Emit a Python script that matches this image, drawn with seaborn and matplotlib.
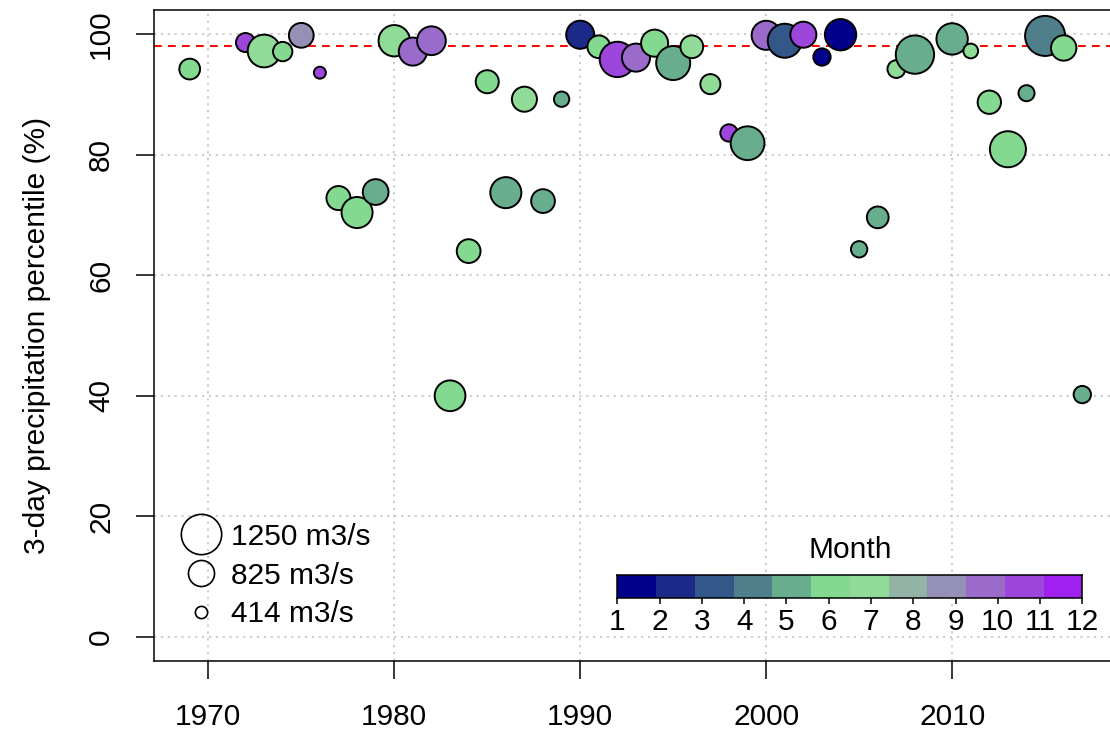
import matplotlib
matplotlib.use("Agg")
import matplotlib.pyplot as plt
from matplotlib.colors import ListedColormap
from matplotlib.lines import Line2D
import numpy as np
import pandas as pd
import seaborn as sns


# Datos: año del evento, percentil de precipitación a 3 días,
# caudal pico (m3/s) y mes del evento
YEARS = [1969, 1972, 1973, 1974, 1975, 1976, 1977, 1978, 1979, 1980,
         1981, 1982, 1983, 1984, 1985, 1986, 1987, 1988, 1989, 1990,
         1991, 1992, 1993, 1994, 1995, 1996, 1997, 1998, 1999, 2000,
         2001, 2002, 2003, 2004, 2005, 2006, 2007, 2008, 2010, 2011,
         2012, 2013, 2014, 2015, 2016, 2017]
PERCENTILE = [94.2, 98.6, 97.2, 97.1, 99.8, 93.6, 72.8, 70.4, 73.8, 98.9,
              97.1, 98.9, 40.0, 64.0, 92.1, 73.7, 89.2, 72.3, 89.2, 99.9,
              97.9, 95.8, 96.1, 98.5, 95.2, 97.9, 91.7, 83.6, 81.9, 99.8,
              98.9, 99.9, 96.2, 99.9, 64.3, 69.6, 94.2, 96.6, 99.2, 97.2,
              88.7, 80.9, 90.2, 99.7, 97.7, 40.2]
DISCHARGE = [676, 625, 1033, 634, 795, 414, 774, 982, 824, 991,
             893, 914, 973, 765, 744, 982, 804, 765, 515, 893,
             735, 1110, 893, 863, 1071, 735, 655, 574, 1063, 923,
             1071, 833, 574, 991, 545, 705, 586, 1199, 991, 497,
             753, 1131, 536, 1250, 813, 574]
MONTH = [6, 11, 7, 6, 9, 11, 6, 6, 5, 7,
         10, 10, 6, 6, 6, 5, 7, 5, 5, 2,
         6, 11, 10, 6, 5, 7, 7, 11, 5, 10,
         3, 11, 1, 1, 5, 5, 7, 5, 5, 7,
         6, 6, 5, 4, 6, 5]

MONTHS = list(range(1, 13))
MONTH_COLORS = ["#00008B", "#1B2A88", "#34578A", "#4F7F8B", "#68AD8E", "#84D990",
                "#90DB97", "#93B3A6", "#9590B6", "#9A6BCB", "#9D46DC", "#A020EF"]
LEGEND_Q = [1250, 825, 414]
THRESHOLD = 98

# Escala de los círculos: diámetro (px) proporcional al caudal
PX_PER_Q = 0.0336
EDGE_LW = 1.4
FS = 21.5


def marker_diam_pt(q, lw=EDGE_LW):
    return q * PX_PER_Q * 0.72 - lw


sns.set_style("ticks")
plt.rcParams.update({
    "font.family": ["Liberation Sans", "DejaVu Sans"],
    "font.size": FS,
    "text.color": "black",
    "axes.labelcolor": "black",
    "xtick.color": "black",
    "ytick.color": "black",
})

df = pd.DataFrame({"year": YEARS, "pct": PERCENTILE, "q": DISCHARGE, "month": MONTH})

fig = plt.figure(figsize=(11.1, 7.31), dpi=100)
ax = fig.add_axes([154 / 1110, (731 - 661) / 731, (1118 - 154) / 1110, (661 - 10) / 731])

ax.set_axisbelow(True)
ax.grid(True, color="#C8C8C8", linestyle=(0, (1.2, 2.6)), lw=1.3)
ax.axhline(THRESHOLD, color="red", lw=1.4, ls=(0, (4, 3.2)), zorder=1.5)

sns.scatterplot(
    data=df, x="year", y="pct",
    hue="month", palette=dict(zip(MONTHS, MONTH_COLORS)),
    size="q", sizes={q: marker_diam_pt(q) ** 2 for q in set(DISCHARGE)},
    edgecolor="black", linewidth=EDGE_LW, legend=False, ax=ax, zorder=3,
)

ax.set_xlim(1967.08, 2018.92)
ax.set_ylim(-4, 104)
ax.set_xticks([1970, 1980, 1990, 2000, 2010])
ax.set_yticks(range(0, 101, 20))
ax.tick_params(direction="out", length=13, width=1.1, colors="black", labelsize=FS)
ax.tick_params(axis="x", pad=17)
ax.tick_params(axis="y", pad=15)
plt.setp(ax.get_yticklabels(), rotation=90, va="center")
ax.set_xlabel("")
ax.set_ylabel("3-day precipitation percentile (%)", fontsize=FS, labelpad=26)
for side in ["left", "bottom", "top", "right"]:
    ax.spines[side].set_color("black")
    ax.spines[side].set_linewidth(1.1)

# Leyenda de tamaños (caudal)
handles = [
    Line2D([], [], marker="o", ls="", markersize=marker_diam_pt(q, 1.2),
           markerfacecolor="none", markeredgecolor="black", markeredgewidth=1.2)
    for q in LEGEND_Q
]
ax.legend(handles, [f"{q} m3/s" for q in LEGEND_Q],
          loc="center left", bbox_to_anchor=((164 - 154) / 964, (661 - 575.5) / 651),
          frameon=False, borderpad=0, handlelength=1.5, handletextpad=0.25,
          labelspacing=0.36, fontsize=FS)

# Barra de color por mes
cax = ax.inset_axes([1992, 6.42, 25, 3.86], transform=ax.transData)
sns.heatmap(np.array([MONTHS]), cmap=ListedColormap(MONTH_COLORS),
            vmin=0.5, vmax=12.5, cbar=False, ax=cax)
cax.set_xticks(np.linspace(0, 12, 12))
cax.set_xticklabels([str(m) for m in MONTHS], rotation=0)
cax.set_yticks([])
cax.tick_params(axis="x", direction="out", length=4.3, width=1.1, pad=3,
                labelsize=FS, colors="black", bottom=True)
for side in cax.spines.values():
    side.set_visible(True)
    side.set_color("black")
    side.set_linewidth(1.1)
cax.set_title("Month", fontsize=FS, pad=12)

fig.savefig("out.png", dpi=100)
